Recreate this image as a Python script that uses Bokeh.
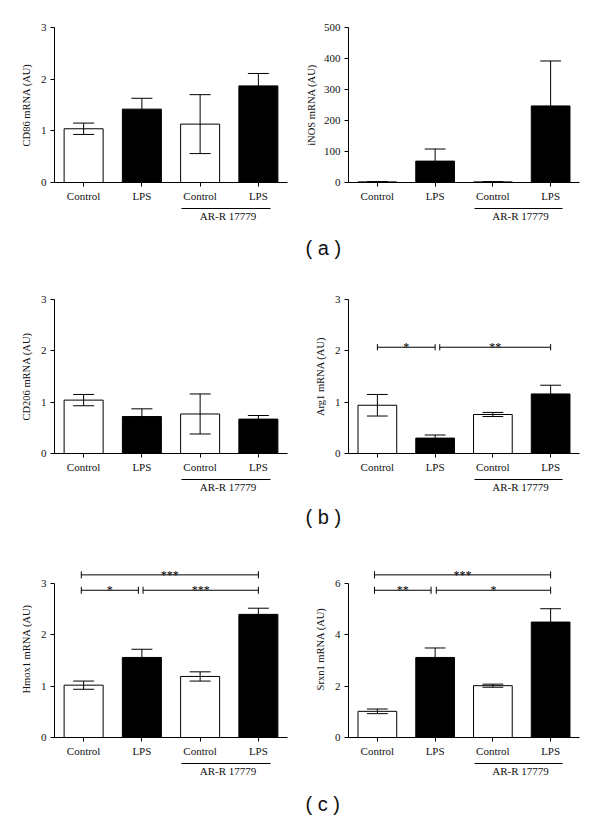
from bokeh.plotting import figure
from bokeh.models import FixedTicker, LinearAxis, Range1d, Title
from bokeh.layouts import column, row
from bokeh.embed import file_html
from bokeh.resources import INLINE
from bokeh.core.properties import value

# ---------------- data ----------------
groups = ["Control", "LPS", "Control", "LPS"]
treatment = "AR-R 17779"
positions = [1, 2, 3, 4]
bar_fill = ["white", "black", "white", "black"]

cd86_mean = [1.04, 1.42, 1.13, 1.87]
cd86_sem = [0.11, 0.21, 0.57, 0.24]
cd86_ticks = [0, 1, 2, 3]

inos_mean = [2, 69, 2, 247]
inos_sem = [0.5, 39, 0.5, 145]
inos_ticks = [0, 100, 200, 300, 400, 500]

cd206_mean = [1.04, 0.72, 0.77, 0.67]
cd206_sem = [0.11, 0.15, 0.39, 0.07]
cd206_ticks = [0, 1, 2, 3]

arg1_mean = [0.94, 0.30, 0.76, 1.16]
arg1_sem = [0.21, 0.06, 0.04, 0.17]
arg1_ticks = [0, 1, 2, 3]
arg1_sig_x0 = [1.0, 2.08]
arg1_sig_x1 = [2.0, 4.0]
arg1_sig_y = [2.07, 2.07]
arg1_sig_text = ["*", "**"]

hmox1_mean = [1.02, 1.56, 1.19, 2.40]
hmox1_sem = [0.08, 0.16, 0.09, 0.12]
hmox1_ticks = [0, 1, 2, 3]
hmox1_sig_x0 = [0.96, 2.02, 0.96]
hmox1_sig_x1 = [1.94, 4.0, 4.0]
hmox1_sig_y = [2.87, 2.87, 3.17]
hmox1_sig_text = ["*", "***", "***"]

srxn1_mean = [1.02, 3.12, 2.02, 4.50]
srxn1_sem = [0.09, 0.37, 0.06, 0.52]
srxn1_ticks = [0, 2, 4, 6]
srxn1_sig_x0 = [0.95, 2.02, 0.95]
srxn1_sig_x1 = [1.93, 4.0, 4.0]
srxn1_sig_y = [5.74, 5.74, 6.34]
srxn1_sig_text = ["**", "*", "***"]

SERIF = "Liberation Serif"
INK = "#111111"


def panel(ylabel, means, sems, yticks, ytop, height, bl, br, bt, bb,
          sig=None, tag=None, tag_standoff=14, ylab_standoff=6):
    p = figure(width=300, height=height,
               x_range=Range1d(0.5, 4.5), y_range=Range1d(0, ytop),
               output_backend="svg", toolbar_location=None,
               x_axis_location=None, y_axis_location=None,
               min_border_left=bl, min_border_right=br,
               min_border_top=bt, min_border_bottom=bb)
    p.outline_line_color = None
    p.background_fill_color = "white"
    p.border_fill_color = "white"

    # y axis
    yax = LinearAxis(ticker=FixedTicker(ticks=yticks), bounds=(0, yticks[-1]),
                     axis_label=ylabel)
    yax.major_tick_out = 4
    yax.major_tick_in = 0
    yax.minor_tick_out = 0
    yax.minor_tick_in = 0
    yax.major_label_standoff = 4
    yax.axis_label_standoff = ylab_standoff
    yax.axis_label_text_font = SERIF
    yax.axis_label_text_font_style = "normal"
    yax.axis_label_text_font_size = "10.5px"
    yax.axis_label_text_color = INK
    yax.major_label_text_font = SERIF
    yax.major_label_text_font_size = "11px"
    yax.major_label_text_color = INK
    yax.axis_line_color = "black"
    yax.major_tick_line_color = "black"
    p.add_layout(yax, "left")

    # x axis with group names
    xax = LinearAxis(ticker=FixedTicker(ticks=positions),
                     major_label_overrides={k: g for k, g in zip(positions, groups)})
    xax.major_tick_out = 4
    xax.major_tick_in = 0
    xax.minor_tick_out = 0
    xax.minor_tick_in = 0
    xax.major_label_standoff = 3
    xax.major_label_text_font = SERIF
    xax.major_label_text_font_size = "11px"
    xax.major_label_text_color = INK
    xax.axis_label = " "
    xax.axis_label_text_font_size = "1px"
    xax.axis_label_standoff = 0
    p.add_layout(xax, "below")

    # treatment underline + label
    tax = LinearAxis(ticker=FixedTicker(ticks=[3.48]), bounds=(2.68, 4.2),
                     major_label_overrides={3.48: treatment})
    tax.major_tick_out = 0
    tax.major_tick_in = 0
    tax.minor_tick_out = 0
    tax.minor_tick_in = 0
    tax.major_label_standoff = 1
    tax.major_label_text_font = SERIF
    tax.major_label_text_font_size = "11px"
    tax.major_label_text_color = INK
    p.add_layout(tax, "below")

    for g in p.grid:
        g.visible = False

    # bars
    p.vbar(x=positions, top=means, bottom=0, width=0.67,
           fill_color=bar_fill, line_color="black", line_width=1)

    # error bars (white bars show both directions, black bars upward only)
    upper = [m + s for m, s in zip(means, sems)]
    lower = [m - s if f == "white" else m for m, s, f in zip(means, sems, bar_fill)]
    p.segment(x0=positions, y0=lower, x1=positions, y1=upper,
              line_color="black", line_width=1)
    cap = 0.18
    p.segment(x0=[x - cap for x in positions], y0=upper,
              x1=[x + cap for x in positions], y1=upper,
              line_color="black", line_width=1)
    wx = [x for x, f in zip(positions, bar_fill) if f == "white"]
    wl = [l for l, f in zip(lower, bar_fill) if f == "white"]
    p.segment(x0=[x - cap for x in wx], y0=wl, x1=[x + cap for x in wx], y1=wl,
              line_color="black", line_width=1)

    # significance brackets
    if sig is not None:
        x0, x1, ys, txt = sig
        h = 0.02 * ytop
        p.segment(x0=x0, y0=ys, x1=x1, y1=ys, line_color="black", line_width=1)
        p.segment(x0=x0, y0=[y - h for y in ys], x1=x0, y1=[y + h for y in ys],
                  line_color="black", line_width=1)
        p.segment(x0=x1, y0=[y - h for y in ys], x1=x1, y1=[y + h for y in ys],
                  line_color="black", line_width=1)
        p.text(x=[(a + b) / 2 for a, b in zip(x0, x1)], y=ys, text=txt,
               text_align="center", text_baseline="alphabetic",
               text_font=value(SERIF), text_font_size="12px", text_color="black")

    if tag is not None:
        t = Title(text=tag, align="left", offset=-43, standoff=tag_standoff,
                  text_font="Liberation Sans", text_font_size="20px",
                  text_font_style="normal", text_color="#111111")
        p.add_layout(t, "below")
    return p


p1 = panel("CD86 mRNA (AU)", cd86_mean, cd86_sem, cd86_ticks, 3, 270, 54, 13, 27, 88)
p2 = panel("iNOS mRNA (AU)", inos_mean, inos_sem, inos_ticks, 500, 270, 48, 21, 27, 88,
           tag="( a )", tag_standoff=20, ylab_standoff=4)
p3 = panel("CD206 mRNA (AU)", cd206_mean, cd206_sem, cd206_ticks, 3, 270, 54, 13, 29, 87)
p4 = panel("Arg1 mRNA (AU)", arg1_mean, arg1_sem, arg1_ticks, 3, 270, 48, 21, 29, 87,
           sig=(arg1_sig_x0, arg1_sig_x1, arg1_sig_y, arg1_sig_text),
           tag="( b )", tag_standoff=17)
p5 = panel("Hmox1 mRNA (AU)", hmox1_mean, hmox1_sem, hmox1_ticks, 3.45, 288, 54, 13, 20, 91,
           sig=(hmox1_sig_x0, hmox1_sig_x1, hmox1_sig_y, hmox1_sig_text))
p6 = panel("Srxn1 mRNA (AU)", srxn1_mean, srxn1_sem, srxn1_ticks, 6.9, 288, 48, 21, 20, 91,
           sig=(srxn1_sig_x0, srxn1_sig_x1, srxn1_sig_y, srxn1_sig_text),
           tag="( c )", tag_standoff=22)

layout = column(row(p1, p2), row(p3, p4), row(p5, p6))
open("out.html", "w").write(file_html(layout, INLINE))
